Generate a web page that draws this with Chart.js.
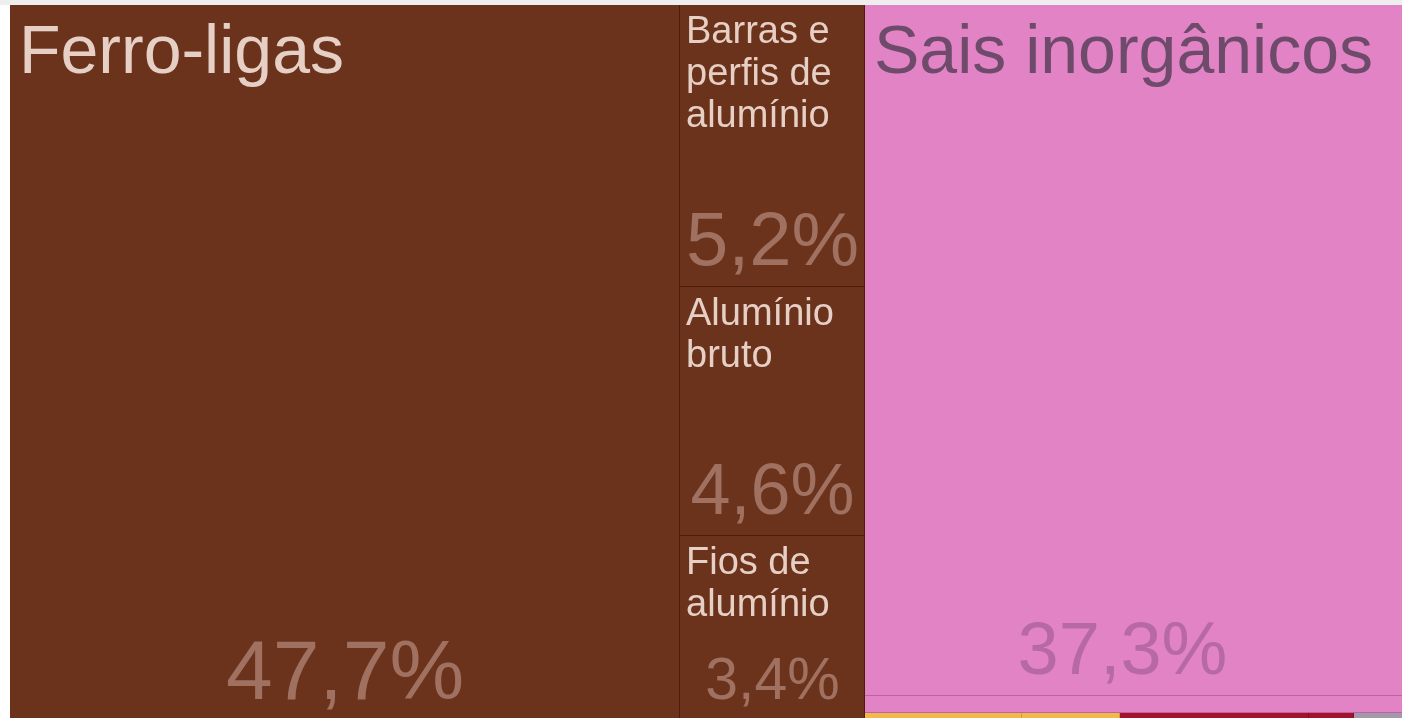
<!DOCTYPE html>
<html lang="pt">
<head>
    <meta charset="UTF-8">
    <title>Treemap</title>
    <script src="https://cdn.jsdelivr.net/npm/chart.js@4.4.1/dist/chart.umd.min.js"></script>
    <style>
        html, body { margin: 0; padding: 0; background: #fff; }
        #topbar { height: 5px; background: #eeeeee; }
        #wrap { width: 1402px; height: 713px; }
    </style>
</head>
<body>
    <div id="topbar"></div>
    <div id="wrap"><canvas id="myChart" width="1402" height="713"></canvas></div>
<script>
    // products and their share of the total (%)
    const names = [
        'Ferro-ligas',
        'Barras e perfis de alumínio',
        'Alumínio bruto',
        'Fios de alumínio',
        'Sais inorgânicos',
        'Outros químicos',
        'Outro produto 1',
        'Outro produto 2',
        'Outro produto 3',
        'Outro produto 4',
        'Outro produto 5'
    ];
    const shares = [47.7, 5.2, 4.6, 3.4, 37.3, 0.9, 0.125, 0.078, 0.151, 0.036, 0.043];
    const sections = ['Metais', 'Metais', 'Metais', 'Metais', 'Químicos', 'Químicos',
        'Minerais', 'Minerais', 'Plásticos', 'Plásticos', 'Outros'];

    // how cells are grouped: columns, split down, nested lists split across
    const columns = [[0], [1, 2, 3], [4, 5, [6, 7, 8, 9, 10]]];

    const palette = {
        Metais:    { fill: '#6b321c', line: '#4e1d0a', label: '#e6cfc4', value: '#a07061' },
        'Químicos': { fill: '#e283c6', line: '#c260a6', label: '#6e4b6b', value: '#b669a6' },
        Minerais:  { fill: '#f3b84c', line: '#d69b35', label: '#fff', value: '#fff' },
        'Plásticos': { fill: '#a3142c', line: '#80101f', label: '#fff', value: '#fff' },
        Outros:    { fill: '#a29aa8', line: '#888090', label: '#fff', value: '#fff' }
    };

    function total(node) {
        return Array.isArray(node) ? node.reduce((s, n) => s + total(n), 0) : shares[node];
    }

    // slice and dice, in value units (x: % of total, y: 0..100 of the column)
    function layout(node, x0, x1, y0, y1, down, out) {
        if (!Array.isArray(node)) { out[node] = { x0, x1, y0, y1 }; return out; }
        const t = total(node);
        let pos = down ? y0 : x0;
        node.forEach(ch => {
            const span = (down ? y1 - y0 : x1 - x0) * total(ch) / t;
            if (down) layout(ch, x0, x1, pos, pos + span, false, out);
            else layout(ch, pos, pos + span, y0, y1, true, out);
            pos += span;
        });
        return out;
    }

    const cells = layout(columns, 0, total(columns), 0, 100, false, []);

    class TreemapController extends Chart.DatasetController {
        getMinMax(scale) {
            const k = scale.axis;
            let min = Infinity, max = -Infinity;
            this._cachedMeta._parsed.forEach(c => {
                min = Math.min(min, c[k + '0']);
                max = Math.max(max, c[k + '1']);
            });
            return { min, max };
        }
        update(mode) {
            const meta = this._cachedMeta;
            this.updateElements(meta.data, 0, meta.data.length, mode);
        }
        updateElements(rects, start, count, mode) {
            const { xScale, yScale } = this._cachedMeta;
            for (let i = start; i < start + count; i++) {
                const c = this.getParsed(i);
                // snap to whole pixels so neighbouring cells share edges cleanly
                const left = Math.round(xScale.getPixelForValue(c.x0));
                const right = Math.round(xScale.getPixelForValue(c.x1));
                const top = Math.round(yScale.getPixelForValue(c.y0));
                const bottom = Math.round(yScale.getPixelForValue(c.y1));
                this.updateElement(rects[i], i, {
                    x: (left + right) / 2, width: right - left,
                    y: top, base: bottom, height: bottom - top,
                    horizontal: false, inflateAmount: 0, borderSkipped: {},
                    options: this.resolveDataElementOptions(i, mode)
                }, mode);
            }
        }
        getLabelAndValue(i) {
            return { label: this.chart.data.labels[i], value: shares[i] + '%' };
        }
    }
    TreemapController.id = 'treemapLite';
    TreemapController.defaults = { datasetElementType: false, dataElementType: 'bar' };
    Chart.register(TreemapController);

    function wrap(ctx, text, maxW) {
        const words = text.split(' ');
        const lines = [];
        let cur = '';
        words.forEach(w => {
            const test = cur ? cur + ' ' + w : w;
            if (cur && ctx.measureText(test).width > maxW) { lines.push(cur); cur = w; }
            else cur = test;
        });
        if (cur) lines.push(cur);
        return lines;
    }

    const cellText = {
        id: 'cellText',
        afterDatasetsDraw(chart, args, opts) {
            const ctx = chart.ctx;
            const meta = chart.getDatasetMeta(0);
            ctx.save();
            meta.data.forEach((el, i) => {
                const w = el.width, h = el.base - el.y;
                if (w < 100 || h < 100) return;
                const left = el.x - w / 2, top = el.y, bottom = el.base;
                const col = palette[sections[i]];
                const big = opts.labelSize[i];
                const ls = big || opts.smallLabel;
                const pad = big ? 9 : 6;
                ctx.font = ls + 'px ' + opts.family;
                ctx.fillStyle = col.label;
                ctx.textAlign = 'left';
                ctx.textBaseline = 'alphabetic';
                wrap(ctx, names[i], w - 12).forEach((line, k) => {
                    ctx.fillText(line, left + pad, top + ls * 1.0 + k * ls * 1.1);
                });
                const vs = opts.valueSize[i] || 40;
                ctx.font = vs + 'px ' + opts.family;
                ctx.fillStyle = col.value;
                ctx.textAlign = 'center';
                const cx = el.x + (opts.valueShift[i] || 0);
                ctx.fillText(shares[i].toFixed(1).replace('.', ',') + '%', cx, Math.min(bottom, chart.chartArea.bottom + 3) - 22);
            });
            ctx.restore();
        }
    };

    new Chart('myChart', {
        type: 'treemapLite',
        data: {
            labels: names,
            datasets: [{
                data: cells,
                parsing: false,
                backgroundColor: sections.map(s => palette[s].fill),
                borderColor: sections.map(s => palette[s].line),
                borderWidth: { top: 0, left: 0, right: 1, bottom: 1 }
            }]
        },
        options: {
            responsive: false,
            animation: false,
            layout: { padding: { left: 10, top: 0, right: 0, bottom: 0 } },
            scales: {
                x: { type: 'linear', display: false, min: 0, max: 99.1 },
                y: { type: 'linear', display: false, min: 0, max: 99.6, reverse: true }
            },
            plugins: {
                legend: { display: false },
                tooltip: { enabled: true },
                cellText: {
                    family: '"Liberation Sans", Arial, sans-serif',
                    smallLabel: 38,
                    labelSize: { 0: 68, 4: 68 },
                    valueSize: { 0: 84, 1: 76, 2: 72, 3: 59, 4: 74 },
                    valueShift: { 4: -14 }
                }
            }
        },
        plugins: [cellText]
    });
</script>
</body>
</html>
